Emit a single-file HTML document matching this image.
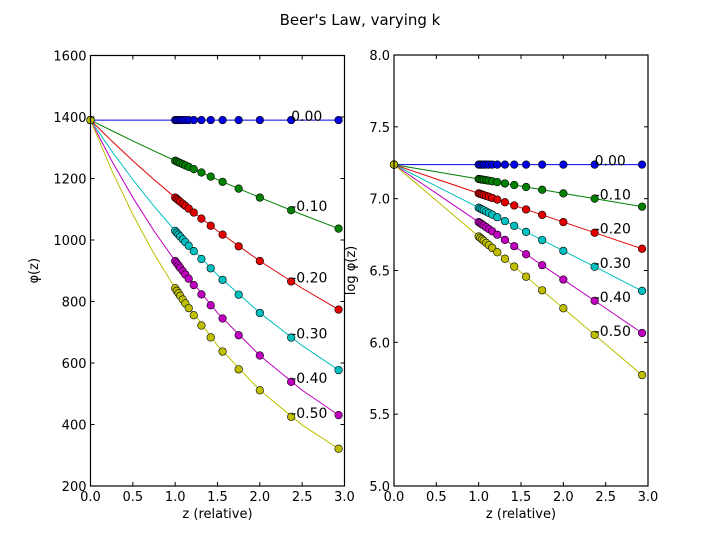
<!DOCTYPE html>
<html><head><meta charset="utf-8"><style>
body{margin:0;background:#fff;}
svg{display:block;font-family:"DejaVu Sans","Liberation Sans",sans-serif;}
</style></head><body>
<svg id="fig" width="720" height="540" xmlns="http://www.w3.org/2000/svg">
<rect width="720" height="540" fill="#fff"/>
<text x="360" y="25" text-anchor="middle" font-size="15">Beer's Law, varying k</text>
</svg>
<script>
const kLabels = ["0.00","-0.10","-0.20","-0.30","-0.40","-0.50"];
const colors = ["#0000e0","#008000","#e00000","#00bfbf","#bf00bf","#bfbf00"];
const zPoints = [0,1.0,1.02,1.04,1.06,1.09,1.12,1.16,1.22,1.31,1.42,1.56,1.75,2.0,2.37,2.93];
const zLine = [0,0.25,0.5,0.75,1.0,1.5,2.0,2.5,2.93];
const phiK0 = [1390,1390,1390,1390,1390,1390,1390,1390,1390,1390,1390,1390,1390,1390,1390,1390];
const phiK1 = [1390,1257.7,1255.2,1252.7,1250.2,1246.4,1242.7,1237.8,1230.4,1219.4,1206.1,1189.3,1167.0,1138.0,1096.8,1037.1];
const phiK2 = [1390,1138.0,1133.5,1128.9,1124.4,1117.7,1111.1,1102.3,1089.2,1069.6,1046.3,1017.4,979.5,931.7,865.2,773.7];
const phiK3 = [1390,1029.7,1023.5,1017.5,1011.4,1002.3,993.3,981.4,963.9,938.3,907.9,870.5,822.2,762.8,682.7,577.1];
const phiK4 = [1390,931.7,924.3,916.9,909.6,898.7,888.0,873.9,853.3,823.1,787.7,744.7,690.2,624.5,538.6,430.5];
const phiK5 = [1390,843.1,834.7,826.4,818.2,806.0,794.0,778.3,755.3,722.0,683.4,637.2,579.5,511.4,425.0,321.2];
const lineK0 = [1390,1390,1390,1390,1390,1390,1390,1390,1390];
const lineK1 = [1390,1355.7,1322.2,1289.6,1257.7,1196.4,1138.0,1082.5,1037.1];
const lineK2 = [1390,1322.2,1257.7,1196.4,1138.0,1029.7,931.7,843.1,773.7];
const lineK3 = [1390,1289.6,1196.4,1109.9,1029.7,886.3,762.8,656.6,577.1];
const lineK4 = [1390,1257.7,1138.0,1029.7,931.7,762.8,624.5,511.4,430.5];
const lineK5 = [1390,1226.7,1082.5,955.3,843.1,656.6,511.4,398.2,321.2];
const xTicks = [0,0.5,1,1.5,2,2.5,3];
const yTicksL = [200,400,600,800,1000,1200,1400,1600];
const yTicksR = [5.0,5.5,6.0,6.5,7.0,7.5,8.0];
const labelIndex = 14;

const pts=[phiK0,phiK1,phiK2,phiK3,phiK4,phiK5];
const lines=[lineK0,lineK1,lineK2,lineK3,lineK4,lineK5];
const NS="http://www.w3.org/2000/svg";
const svg=document.getElementById('fig');
function mk(tag,attrs,parent){const e=document.createElementNS(NS,tag);for(const k in attrs)e.setAttribute(k,attrs[k]);(parent||svg).appendChild(e);return e;}

function panel(p){
  const g=mk('g',{});
  
  
  const X=v=>p.x0+(v-0)/(3-0)*(p.x1-p.x0);
  const Y=v=>p.y1-(v-p.ymin)/(p.ymax-p.ymin)*(p.y1-p.y0);
  for(let s=0;s<6;s++){
    const d=zLine.map((z,i)=>(i?'L':'M')+X(z).toFixed(2)+','+Y(p.f(lines[s][i])).toFixed(2)).join('');
    const l=mk('path',{d:d,fill:'none',stroke:colors[s],'stroke-width':1},g);
    
    
  }
  for(let s=0;s<6;s++){
    zPoints.forEach((z,i)=>{
      const c=mk('circle',{cx:X(z),cy:Y(p.f(pts[s][i])),r:3.8,fill:colors[s],stroke:'#000','stroke-width':0.6},g);
      
      
    });
    const t=mk('text',{x:X(zPoints[labelIndex]),y:Y(p.f(pts[s][labelIndex]))+1,'font-size':14},g);
    t.textContent=kLabels[s];
    
    
  }
  const fr=mk('rect',{x:p.x0,y:p.y0,width:p.x1-p.x0,height:p.y1-p.y0,fill:'none',stroke:'#000','stroke-width':1.2},g);
  
  
  xTicks.forEach(v=>{
    const x=X(v);
    mk('line',{x1:x,x2:x,y1:p.y1,y2:p.y1-4,stroke:'#000'},g);
    mk('line',{x1:x,x2:x,y1:p.y0,y2:p.y0+4,stroke:'#000'},g);
    const t=mk('text',{x:x,y:p.y1+15,'text-anchor':'middle','font-size':13},g);
    t.textContent=v.toFixed(1);
    
    
  });
  p.ticks.forEach(v=>{
    const y=Y(v);
    mk('line',{x1:p.x0,x2:p.x0+4,y1:y,y2:y,stroke:'#000'},g);
    mk('line',{x1:p.x1,x2:p.x1-4,y1:y,y2:y,stroke:'#000'},g);
    const t=mk('text',{x:p.x0-4,y:y+5,'text-anchor':'end','font-size':13},g);
    t.textContent=p.fmt(v);
    
    
  });
  const xl=mk('text',{x:(p.x0+p.x1)/2,y:p.y1+32,'text-anchor':'middle','font-size':13},g);
  xl.textContent='z (relative)';
  
  
  const yl=mk('text',{x:p.ylx,y:(p.y0+p.y1)/2,'text-anchor':'middle','font-size':13,transform:`rotate(-90 ${p.ylx} ${(p.y0+p.y1)/2})`},g);
  yl.textContent=p.ylabel;
  
  
}
panel({name:'left-panel',x0:90.5,x1:344.5,y0:55.5,y1:486,ymin:200,ymax:1600,f:v=>v,ticks:yTicksL,fmt:v=>String(v),ylabel:'φ(z)',ylx:38});
panel({name:'right-panel',x0:394,x1:648,y0:55,y1:486,ymin:5,ymax:8,f:v=>Math.log(v),ticks:yTicksR,fmt:v=>v.toFixed(1),ylabel:'log φ(z)',ylx:355});
</script>
</body></html>
